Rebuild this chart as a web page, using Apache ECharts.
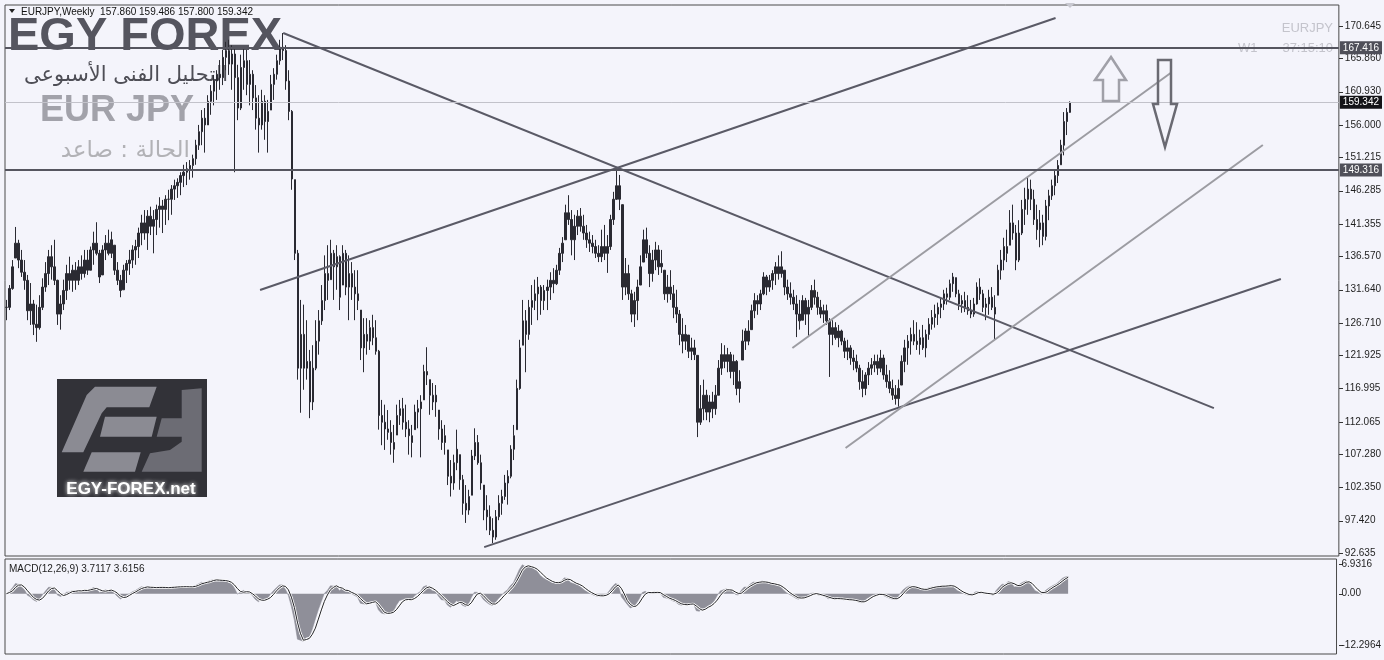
<!DOCTYPE html>
<html><head><meta charset="utf-8">
<script src="https://cdn.jsdelivr.net/npm/echarts@6/dist/echarts.min.js"></script>
<style>html,body{margin:0;padding:0;background:#f4f4fb;}#c{width:1384px;height:660px;}</style>
</head><body><div id="c"></div>
<script>
// ---- DATA (3-week bars) ----
const highs = [130.1,132.3,136.0,140.9,139.0,137.5,136.0,133.8,132.6,130.1,
129.4,130.8,133.3,135.7,137.5,138.2,139.0,133.1,130.8,133.1,
135.3,136.5,135.3,135.7,136.0,136.7,137.5,137.5,138.0,140.2,
141.6,137.5,138.2,139.7,140.5,140.2,138.2,135.7,133.8,135.3,
136.0,137.5,138.2,139.0,140.8,142.7,143.4,143.4,143.9,143.4,
144.2,145.3,144.9,145.6,146.4,147.1,147.9,148.1,149.0,150.1,
150.5,150.8,151.6,153.8,156.0,158.2,158.5,160.4,161.9,163.4,
164.1,165.6,167.1,168.3,168.6,167.8,167.4,164.9,166.4,167.5,
167.1,165.6,164.1,161.9,160.4,161.2,160.4,159.7,163.4,164.4,
166.4,168.6,169.6,167.8,164.1,158.2,147.9,137.5,130.1,129.4,
127.1,122.7,123.4,127.1,128.6,132.3,136.7,138.2,139.0,137.5,
138.2,136.7,138.2,137.5,136.7,135.7,134.5,134.5,128.6,127.4,
127.4,127.1,127.9,127.1,122.7,115.3,114.6,113.8,112.3,111.6,
114.6,115.3,115.6,114.6,112.3,111.6,114.6,115.3,116.0,120.5,
123.1,118.3,117.8,117.5,113.8,112.3,111.6,107.9,106.4,107.2,
110.9,107.2,104.2,102.7,102.0,107.9,111.1,110.1,107.2,102.7,
101.2,99.7,97.8,99.0,101.2,102.0,104.2,104.9,108.6,111.6,
118.3,124.2,130.1,128.6,130.1,132.3,133.1,133.5,132.3,132.3,
133.1,134.2,134.8,135.3,137.8,139.4,144.2,145.6,143.4,142.7,
143.4,143.7,142.7,141.2,140.2,139.7,139.0,138.2,140.5,141.2,
139.7,142.7,146.1,149.8,148.6,144.2,136.3,135.3,131.6,131.3,
133.1,136.7,140.5,140.8,138.2,137.5,138.7,138.2,137.5,134.5,
133.8,134.5,132.3,131.6,128.6,127.4,126.4,124.9,124.5,124.2,
121.9,117.5,118.3,116.8,116.0,116.5,117.5,121.2,123.7,123.4,
123.0,122.4,122.0,121.2,119.7,125.7,125.9,127.1,129.4,131.1,
130.8,131.6,134.2,133.8,133.8,134.5,135.7,136.7,137.3,134.5,
133.1,132.7,131.6,130.8,130.1,130.8,130.4,130.1,132.3,133.1,
131.3,130.1,129.4,129.4,127.4,127.1,126.8,126.4,125.7,124.5,
124.2,123.4,122.7,122.0,120.5,119.7,119.4,120.9,121.5,122.0,
122.0,122.7,122.0,120.5,119.7,118.3,117.5,118.3,121.9,124.2,
124.9,126.0,127.1,126.8,125.7,126.4,125.7,127.4,128.6,129.4,
129.7,130.4,131.6,131.9,133.1,134.1,133.4,131.6,130.8,131.3,
130.8,130.1,130.4,132.7,133.3,131.6,130.4,131.6,132.0,130.8,
135.3,137.5,139.3,140.5,143.4,144.2,141.2,141.9,144.9,146.7,
148.3,147.9,146.4,144.2,143.4,142.7,144.9,146.4,147.9,149.3,
150.8,153.8,157.9,158.5,159.486];
const lows = [127.1,128.6,131.6,136.3,134.8,133.5,131.6,127.1,126.4,124.9,
123.9,125.7,128.6,131.3,132.3,133.1,132.3,126.4,125.7,128.6,
130.1,131.6,131.3,131.6,132.3,133.1,133.4,133.8,134.5,135.3,
136.7,132.6,133.8,136.0,136.7,136.3,133.8,132.3,130.5,131.6,
132.6,133.8,134.8,135.3,136.3,138.2,139.0,137.5,139.7,137.0,
139.7,140.8,140.0,141.2,141.9,142.7,144.9,145.2,145.6,146.8,
147.1,147.9,148.2,150.1,152.3,153.0,151.9,156.0,157.5,158.9,
159.7,161.2,161.9,164.1,163.4,161.2,149.0,156.7,158.2,161.2,
160.4,158.9,158.2,155.3,151.9,155.3,153.8,151.9,158.2,159.7,
162.7,164.9,165.6,161.2,156.7,146.4,136.0,118.3,113.4,116.8,
118.3,112.6,113.8,119.7,122.0,126.4,128.6,130.1,133.1,130.1,
131.6,128.6,132.3,130.8,127.1,130.1,127.1,128.6,121.2,119.4,
122.0,122.7,123.4,122.0,110.9,108.6,107.9,109.4,107.2,106.0,
110.1,111.6,110.9,109.8,107.2,106.8,110.9,111.1,106.8,115.3,
117.5,113.1,113.8,112.8,109.4,107.9,107.2,102.7,101.0,102.0,
104.9,102.0,98.3,97.1,98.3,101.2,106.4,105.7,102.0,97.5,
96.0,95.3,94.1,94.6,97.5,98.3,100.5,99.8,103.7,106.4,
110.9,116.8,123.4,119.4,124.2,126.4,128.6,127.1,127.9,128.6,
128.6,130.1,131.1,132.3,133.8,135.7,139.0,141.2,136.7,136.0,
139.7,140.2,139.0,137.8,137.2,137.0,136.3,135.7,135.7,136.0,
134.1,137.5,141.2,144.9,143.4,130.1,130.8,130.1,126.8,126.1,
127.1,132.3,135.7,136.3,132.0,132.8,134.5,133.8,134.1,130.1,
129.7,130.1,127.4,126.7,123.4,122.2,122.7,121.5,121.2,121.2,
109.8,111.6,112.3,112.3,112.0,112.6,113.1,116.0,119.0,120.0,
119.4,118.5,117.5,116.0,114.9,121.2,122.7,123.4,125.7,127.4,
127.9,128.6,130.8,130.8,131.3,131.6,132.3,133.1,133.4,130.8,
130.1,129.4,128.6,124.6,125.7,127.1,126.4,124.6,128.6,129.4,
127.9,127.4,126.7,126.4,118.7,123.4,124.2,123.1,123.4,121.5,
121.2,120.5,119.7,119.4,116.8,115.7,116.0,117.5,119.0,119.4,
119.0,119.4,118.3,117.1,116.3,115.3,114.6,114.3,117.5,119.4,
120.5,122.0,123.4,122.7,122.0,122.7,121.6,124.2,125.7,126.0,
126.4,127.4,128.6,129.4,130.1,131.3,130.5,128.6,128.2,128.3,
127.9,127.4,127.6,129.4,130.1,128.3,127.1,127.9,128.6,124.2,
130.8,133.1,134.5,135.7,138.2,139.0,134.5,135.7,139.7,141.2,
142.7,143.4,141.2,139.0,137.9,138.2,138.9,141.9,144.9,145.6,
147.4,150.1,151.5,154.5,157.800];
const closes = [129.0,131.8,135.0,138.5,136.0,134.2,133.0,128.5,129.5,126.5,
126.0,129.0,132.0,134.0,136.5,135.0,133.0,128.0,129.5,131.5,
134.0,133.0,134.5,133.0,135.0,134.0,136.0,134.5,137.5,138.5,
137.0,133.5,137.5,138.5,137.0,139.0,134.5,133.0,131.5,134.5,
135.5,136.0,137.5,138.0,140.0,141.5,140.0,142.5,141.0,142.0,
143.5,144.0,143.5,145.0,145.0,146.5,147.0,147.5,148.5,149.0,
149.5,150.0,151.0,153.0,155.0,157.0,156.0,159.5,161.0,162.5,
163.5,163.0,166.0,167.0,165.0,166.5,163.0,158.5,164.5,165.5,
162.0,163.5,160.0,157.0,156.0,159.5,156.5,158.0,162.0,163.5,
165.5,167.5,167.0,162.5,158.0,148.0,137.0,120.0,125.0,120.0,
121.0,115.0,120.0,124.0,127.0,130.0,134.0,133.0,137.0,135.0,
136.5,130.5,137.0,132.0,134.0,132.0,131.0,130.0,123.0,125.0,
124.0,126.0,124.5,122.5,113.0,112.0,111.0,110.5,109.0,108.0,
113.0,114.0,112.0,111.0,110.0,109.0,113.5,114.0,115.0,119.5,
119.0,116.0,115.0,116.0,111.0,109.0,110.0,104.0,103.0,106.0,
108.0,103.5,100.0,99.0,101.0,107.0,109.0,106.0,103.0,99.0,
98.0,96.0,95.0,98.0,100.0,101.0,103.0,104.0,108.0,110.0,
117.0,123.0,127.0,125.0,129.0,130.0,131.0,132.0,130.0,131.5,
132.0,133.0,132.5,134.5,137.0,138.5,143.0,142.0,139.0,141.0,
142.5,141.0,140.0,139.0,138.5,138.0,137.0,136.5,138.0,137.0,
138.0,142.0,145.0,147.0,145.0,132.0,134.0,131.0,128.0,130.0,
132.0,135.0,139.0,137.0,134.0,136.0,137.5,135.0,135.5,131.0,
132.0,131.0,129.0,128.0,125.0,124.0,125.0,122.5,123.0,122.0,
112.0,114.0,116.0,113.5,115.0,114.0,116.0,120.0,122.0,121.0,
122.0,119.5,121.0,117.0,118.0,124.0,125.5,124.0,128.5,130.0,
129.5,131.0,133.5,132.0,133.0,134.0,135.0,134.0,135.0,132.0,
131.0,130.5,129.5,128.0,127.0,130.0,128.0,129.0,131.5,130.5,
129.0,128.0,128.5,127.0,125.0,126.0,124.5,125.5,124.0,122.5,
123.0,121.5,121.0,120.0,118.0,117.0,119.0,120.0,120.5,121.0,
120.0,121.5,119.0,118.0,117.0,116.0,115.5,117.0,121.0,123.0,
124.0,125.0,124.0,123.5,124.5,123.0,125.0,126.5,127.5,128.0,
129.0,129.5,131.0,130.5,132.5,133.5,131.0,129.5,130.0,129.0,
128.5,128.0,129.5,132.0,131.0,129.0,129.5,130.5,129.0,128.0,
134.5,136.0,138.0,137.0,141.5,140.0,136.0,140.0,143.5,145.0,
146.5,145.0,142.0,140.5,141.5,139.5,144.0,145.5,147.0,148.5,
150.0,153.0,156.5,157.86,159.342];
const lastOpen = 157.860;
const TOTAL_SLOTS = 444;                       // bars + empty chart shift on the right
const categories = Array.from({length: TOTAL_SLOTS}, (_, i) => String(i));
const priceTicks = [170.645,165.860,160.930,156.000,151.215,146.285,141.355,136.570,131.640,126.710,121.925,116.995,112.065,107.280,102.350,97.420,92.635];
const macdTicks = [6.9316, 0, -12.2964];
const macdTickLabels = ['6.9316', '0.00', '-12.2964'];
const levels = [167.416, 159.342, 149.316];
// trend lines: [barIndex, price] endpoints
const trendLinesDark = [
  [[92.1,169.61],[401.9,114.09]],
  [[84.4,131.57],[349.2,171.83]],
  [[159.0,93.52],[424.2,133.19]]
];
const trendLinesLight = [
  [[261.6,122.98],[387.5,163.69]],
  [[279.3,108.18],[418.2,153.03]]
];

// ---- build ----
const n = closes.length;
const opens = closes.map((c, i) => {
  let o = i === 0 ? closes[0] : (i === n - 1 ? lastOpen : closes[i - 1]);
  return Math.min(highs[i], Math.max(lows[i], o));
});
const candleData = closes.map((c, i) => [opens[i], c, lows[i], highs[i]]);
function ema(arr, p) { const a = 2 / (p + 1); let prev = arr[0]; return arr.map((v, i) => (prev = i === 0 ? v : a * v + (1 - a) * prev)); }
const fast = ema(closes, 4), slow = ema(closes, 9);
const macd = closes.map((_, i) => fast[i] - slow[i]);
const signal = macd.map((_, i) => { const s = macd.slice(Math.max(0, i - 2), i + 1); return s.reduce((a, b) => a + b, 0) / s.length; });

const DARK = '#2a2a32';
const levelStyles = [
  {line: {color: '#55555f', width: 2}, bg: '#4f4f59'},
  {line: {color: '#c2c2ca', width: 1}, bg: '#141418'},
  {line: {color: '#55555f', width: 2}, bg: '#4f4f59'}
];
const FONT = '"Liberation Sans", Arial, sans-serif';

const chart = echarts.init(document.getElementById('c'), null, {renderer: 'canvas'});
const hidden = {axisLine: {show: false}, axisTick: {show: false}, axisLabel: {show: false}, splitLine: {show: false}};
chart.setOption({
  animation: false,
  backgroundColor: '#f4f4fb',
  grid: [
    {left: 5, right: 45, top: 5, height: 551, show: true, borderColor: '#4a4a4a', borderWidth: 1, backgroundColor: 'transparent'},
    {left: 5, right: 45, top: 559, height: 95, show: true, borderColor: '#4a4a4a', borderWidth: 1, backgroundColor: 'transparent'}
  ],
  xAxis: [
    Object.assign({type: 'category', gridIndex: 0, data: categories, boundaryGap: true}, hidden),
    Object.assign({type: 'category', gridIndex: 1, data: categories, boundaryGap: true}, hidden),
    Object.assign({type: 'value', gridIndex: 0, min: -0.5, max: TOTAL_SLOTS - 0.5}, hidden)
  ],
  yAxis: [
    {type: 'value', gridIndex: 0, position: 'right', min: 92.2, max: 173.75,
     axisLine: {show: false}, splitLine: {show: false}, axisTick: {show: false},
     axisLabel: {show: true, customValues: priceTicks, formatter: v => v.toFixed(3), margin: 6, color: '#1e1e1e', fontSize: 10, fontFamily: FONT}},
    {type: 'value', gridIndex: 1, position: 'right', min: -14.33, max: 8.23,
     axisLine: {show: false}, splitLine: {show: false}, axisTick: {show: false},
     axisLabel: {show: true, customValues: macdTicks, formatter: v => { const k = macdTicks.indexOf(v); return k >= 0 ? macdTickLabels[k] : ''; }, margin: 5, color: '#1e1e1e', fontSize: 10, fontFamily: FONT}}
  ],
  series: [
    {type: 'candlestick', xAxisIndex: 0, yAxisIndex: 0, data: candleData, barWidth: 2, z: 3,
     itemStyle: {color: DARK, color0: DARK, borderColor: DARK, borderColor0: DARK, borderWidth: 1},
     markLine: {silent: true, symbol: ['none', 'none'], animation: false, precision: 3,
       data: levels.map((v, i) => ({yAxis: v, lineStyle: Object.assign({type: 'solid'}, levelStyles[i].line),
         label: {show: true, position: 'end', distance: 1, formatter: () => levels[i].toFixed(3), color: '#fff',
                 backgroundColor: levelStyles[i].bg, padding: [2, 3, 1, 3], fontSize: 10, fontFamily: FONT}}))}}
  ].concat(trendLinesDark.map(l => ({type: 'line', xAxisIndex: 2, yAxisIndex: 0, data: l, showSymbol: false, z: 4, silent: true,
      lineStyle: {color: '#5a5a66', width: 2}})))
   .concat(trendLinesLight.map(l => ({type: 'line', xAxisIndex: 2, yAxisIndex: 0, data: l, showSymbol: false, z: 4, silent: true,
      lineStyle: {color: '#9c9ca2', width: 2}})))
   .concat([
    {type: 'line', xAxisIndex: 1, yAxisIndex: 1, data: macd, showSymbol: false, silent: true, z: 2,
     lineStyle: {width: 0.5, color: '#8f8f99'}, areaStyle: {color: '#8f8f99', opacity: 1, origin: 0}},
    {type: 'line', xAxisIndex: 1, yAxisIndex: 1, data: signal, showSymbol: false, silent: true, z: 3, lineStyle: {color: '#ffffff', width: 2.5}},
    {type: 'line', xAxisIndex: 1, yAxisIndex: 1, data: signal, showSymbol: false, silent: true, z: 4, lineStyle: {color: '#222228', width: 1}}
  ])
});

// axis tick marks next to the right-hand labels (positions from the axes)
const tickMarks = [];
priceTicks.forEach(v => { const y = Math.round(chart.convertToPixel({yAxisIndex: 0}, v)) + 0.5;
  tickMarks.push({type: 'line', shape: {x1: 1339, y1: y, x2: 1343, y2: y}, style: {stroke: '#333', lineWidth: 1}}); });
macdTicks.forEach(v => { const y = Math.round(chart.convertToPixel({yAxisIndex: 1}, v)) + 0.5;
  tickMarks.push({type: 'line', shape: {x1: 1339, y1: y, x2: 1343, y2: y}, style: {stroke: '#333', lineWidth: 1}}); });

chart.setOption({
  graphic: tickMarks.concat([
    {type: 'polygon', shape: {points: [[9, 9], [15, 9], [12, 13]]}, style: {fill: '#222'}},
    {type: 'text', x: 21, y: 12, style: {text: 'EURJPY,Weekly  ' + lastOpen.toFixed(3) + ' ' + highs[n-1].toFixed(3) + ' ' + lows[n-1].toFixed(3) + ' ' + closes[n-1].toFixed(3),
      font: '10px ' + FONT, fill: '#111', verticalAlign: 'middle'}},
    {type: 'text', x: 8, y: 37, style: {text: 'EGY FOREX', font: 'bold 47px ' + FONT, fill: '#55555f', verticalAlign: 'middle'}},
    {type: 'text', x: 228, y: 76, style: {text: 'التحليل الفنى الأسبوعى', font: '21px "DejaVu Sans", sans-serif', fill: '#4e4e56', align: 'right', verticalAlign: 'middle'}},
    {type: 'text', x: 40, y: 111, style: {text: 'EUR JPY', font: 'bold 36px ' + FONT, fill: '#a2a2aa', verticalAlign: 'middle'}},
    {type: 'text', x: 190, y: 151, style: {text: 'الحالة : صاعد', font: '23px "DejaVu Sans", sans-serif', fill: '#b2b2b6', align: 'right', verticalAlign: 'middle'}},
    {type: 'text', x: 1333, y: 28, style: {text: 'EURJPY', font: '13px ' + FONT, fill: '#c4c4cc', align: 'right', verticalAlign: 'middle'}},
    {type: 'text', x: 1238, y: 48, style: {text: 'W1', font: '13px ' + FONT, fill: '#c4c4cc', verticalAlign: 'middle'}},
    {type: 'text', x: 1333, y: 48, style: {text: '37:15:10', font: '13px ' + FONT, fill: '#c4c4cc', align: 'right', verticalAlign: 'middle'}},
    {type: 'polygon', shape: {points: [[1065, 3], [1075, 3], [1070, 8]]}, style: {fill: '#c8c8d0'}},
    {type: 'polygon', z: 10, shape: {points: [[1111, 57], [1126, 80], [1119, 80], [1119, 101], [1103, 101], [1103, 80], [1095, 80]]},
      style: {fill: 'none', stroke: '#a0a0a8', lineWidth: 2.5}},
    {type: 'polygon', z: 10, shape: {points: [[1158, 60], [1171, 60], [1171, 104], [1177, 104], [1165, 147], [1153, 104], [1158, 104]]},
      style: {fill: 'none', stroke: '#6a6a72', lineWidth: 2.5}},
    {type: 'text', x: 9, y: 569, style: {text: 'MACD(12,26,9) 3.7117 3.6156', font: '10px ' + FONT, fill: '#222', verticalAlign: 'middle'}},
    // logo
    {type: 'rect', z: 20, shape: {x: 57, y: 379, width: 150, height: 118}, style: {fill: '#323238'}},
    {type: 'polygon', z: 21, shape: {points: [[61.7, 452.3], [86.7, 395], [95, 386.7], [156.7, 386.7], [149.3, 407.3], [106.7, 407.3], [101.7, 413.3], [83.3, 452.3]]}, style: {fill: '#8b8b93'}},
    {type: 'polygon', z: 21, shape: {points: [[105, 416.7], [156.7, 416.7], [151.7, 436.7], [100, 436.7]]}, style: {fill: '#8b8b93'}},
    {type: 'polygon', z: 21, shape: {points: [[91.7, 452.3], [140.7, 452.3], [135, 471.7], [83.3, 471.7]]}, style: {fill: '#8b8b93'}},
    {type: 'polygon', z: 21, shape: {points: [[181.7, 390], [201.7, 388.3], [201.7, 471.7], [141.7, 471.7], [150, 453.3], [170, 450], [181.7, 441.7], [181.7, 436.7], [156.7, 436.7], [161.7, 418.3], [181.7, 418.3]]}, style: {fill: '#6c6c74'}},
    {type: 'text', z: 22, x: 131, y: 489, style: {text: 'EGY-FOREX.net', font: 'bold 17px ' + FONT, fill: '#ffffff', align: 'center', verticalAlign: 'middle', textShadowColor: '#ffffff', textShadowBlur: 4}}
  ])
});
</script></body></html>
